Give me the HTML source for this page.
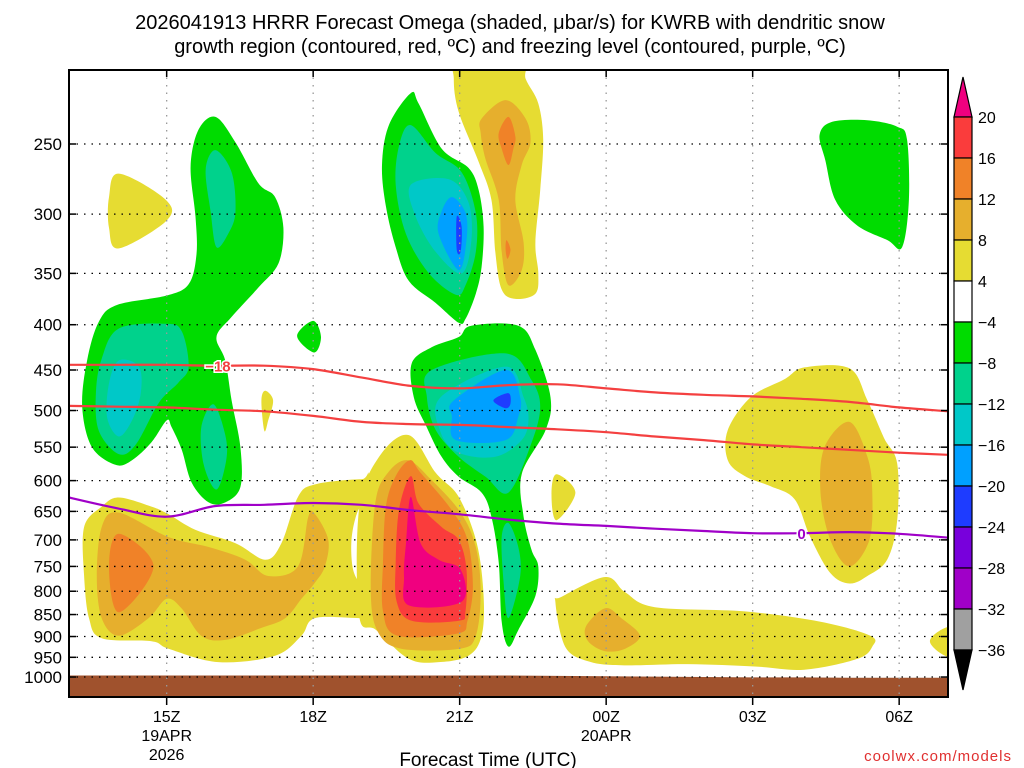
<!DOCTYPE html>
<html><head><meta charset="utf-8"><title>HRRR Omega KWRB</title>
<style>
body{margin:0;background:#fff;}
svg{display:block;font-family:"Liberation Sans",sans-serif;}
</style></head>
<body>
<svg id="chart" width="1024" height="768" viewBox="0 0 1024 768" xmlns="http://www.w3.org/2000/svg">
<text x="510" y="29" font-size="20" text-anchor="middle" fill="#000">2026041913 HRRR Forecast Omega (shaded, μbar/s) for KWRB with dendritic snow</text>
<text x="510" y="53" font-size="20" text-anchor="middle" fill="#000">growth region (contoured, red, ºC) and freezing level (contoured, purple, ºC)</text>
<defs><clipPath id="plotclip"><rect x="69" y="70" width="879" height="627"/></clipPath></defs>
<g id="plot" clip-path="url(#plotclip)"></g>
<g id="grid"></g>
<g id="lines" clip-path="url(#plotclip)"></g>
<rect x="69" y="70" width="879" height="627" fill="none" stroke="#000" stroke-width="2"/>
<g id="axes"></g>
<g id="cbar"></g>
<text x="488" y="766" font-size="19" text-anchor="middle">Forecast Time (UTC)</text>
<text x="1012" y="761" font-size="15" text-anchor="end" fill="#e03030" letter-spacing="1">coolwx.com/models</text>
</svg>
<script>
// time in hours since 13Z 19APR, pressure in hPa
const xTickHours=[2,5,8,11,14,17];
const xTickLabels=["15Z","18Z","21Z","00Z","03Z","06Z"];
const pTicks=[250,300,350,400,450,500,550,600,650,700,750,800,850,900,950,1000];
const lineHours=[0,1,2,3,4,5,6,7,8,9,10,11,12,13,14,15,16,17,18];
const dgzTop=[444,444,444,445,445,449,459,469,472,468,467,472,477,480,482,485,489,496,501];
const dgzBottom=[494,495,496,499,501,507,515,518,519,522,525,529,535,540,546,550,554,558,561];
const freezing=[627,645,659,641,639,636,639,648,655,664,671,675,680,684,688,688,686,689,696];
const surfaceP=[996,996,996,996,996,996,996,996,996,996,997,998,999,1000,1001,1001,1002,1002,1002];
const cbarLevels=["20","16","12","8","4","−4","−8","−12","−16","−20","−24","−28","−32","−36"];
const cbarColors=["#fa3c3c","#f08228","#e6af2d","#e6dc32","#ffffff","#00dc00","#00d28c","#00c8c8","#00a0ff","#1e3cff","#7800dc","#a000c8","#a0a0a0"];
const fill={W:"#ffffff",y:"#e6dc32",g:"#e6af2d",o:"#f08228",r:"#fa3c3c",m:"#f0007f",G:"#00dc00",T:"#00d28c",C:"#00c8c8",L:"#00a0ff",B:"#1e3cff"};
const shapes=[
["y",[[1.02,270],[1.98,289],[2.0,305],[1.02,328],[0.82,311],[0.82,287]]],
["y",[[0.31,677],[0.67,642],[1.02,627],[1.69,642],[2.04,655],[2.59,682],[3.41,706],[4.02,737],[4.35,706],[4.69,626],[5.04,606],[5.98,598],[6.15,605],[6.15,850],[6.0,858],[5.04,858],[4.76,898],[4.22,946],[3.06,962],[2.04,929],[1.69,911],[0.67,904],[0.41,858],[0.31,769]]],
["W",[[5.98,644],[6.08,677],[6.08,757],[5.98,783],[5.82,757],[5.78,706],[5.86,663]]],
["g",[[0.67,677],[1.02,652],[2.04,695],[2.86,713],[3.61,737],[4.08,769],[4.69,750],[4.9,659],[5.04,655],[5.31,700],[5.24,750],[5.04,782],[4.76,816],[4.43,858],[3.94,880],[3.2,908],[2.71,898],[2.31,837],[2.0,816],[1.63,858],[1.02,898],[0.67,858],[0.57,769]]],
["o",[[1.02,689],[1.73,750],[1.02,845],[0.82,750]]],
["y",[[6.96,533],[7.51,588],[7.98,626],[8.35,706],[8.49,810],[8.45,898],[8.18,946],[7.57,962],[6.96,954],[6.29,885],[5.94,852],[5.94,646],[6.35,564]]],
["g",[[6.94,569],[7.41,598],[8.02,652],[8.33,713],[8.43,802],[8.33,898],[8.0,929],[6.8,929],[6.33,890],[6.18,802],[6.27,637],[6.53,588]]],
["o",[[6.98,569],[7.2,588],[7.82,646],[8.16,700],[8.27,790],[8.16,864],[7.96,893],[6.73,898],[6.43,843],[6.43,743],[6.49,642],[6.69,593]]],
["r",[[7.0,593],[7.16,637],[7.63,677],[7.98,700],[8.14,756],[8.12,843],[7.98,864],[7.02,864],[6.71,822],[6.69,743],[6.76,646]]],
["m",[[7.0,626],[7.2,706],[7.57,737],[8.02,756],[8.04,822],[6.96,830],[6.86,771],[6.9,706]]],
["G",[[8.24,401],[9.2,401],[9.55,427],[9.86,483],[9.76,526],[9.27,590],[9.31,659],[9.47,718],[9.61,750],[9.55,810],[9.2,885],[9.0,924],[8.86,866],[8.8,742],[8.65,659],[8.45,619],[7.98,594],[7.63,564],[7.31,520],[7.06,483],[7.02,442],[7.43,424],[7.98,413]]],
["T",[[7.43,450],[8.94,431],[9.47,462],[9.65,495],[9.47,544],[9.0,619],[8.53,594],[7.98,564],[7.51,526],[7.33,483]]],
["T",[[9.0,670],[9.2,713],[9.24,769],[9.0,858],[8.9,782],[8.86,695]]],
["C",[[7.61,483],[8.94,446],[9.31,483],[9.41,512],[9.27,540],[8.73,564],[7.98,558],[7.61,529]]],
["L",[[7.88,487],[8.94,450],[9.24,483],[9.2,508],[8.94,540],[7.92,540],[7.84,508]]],
["B",[[8.69,487],[9.0,478],[9.04,491],[8.94,497]]],
["G",[[7.0,219],[7.16,225],[7.63,253],[8.18,266],[8.39,282],[8.49,310],[8.45,344],[8.33,369],[8.12,394],[7.98,398],[7.51,378],[6.96,357],[6.69,327],[6.49,294],[6.41,264],[6.55,238]]],
["T",[[7.0,238],[7.51,256],[8.04,269],[8.33,299],[8.33,331],[8.12,361],[7.92,370],[7.37,350],[6.9,316],[6.69,278],[6.76,251]]],
["C",[[7.0,278],[7.78,274],[8.18,291],[8.24,321],[8.04,350],[7.51,331],[7.1,302]]],
["L",[[7.84,287],[8.12,299],[8.14,321],[7.98,347],[7.57,316],[7.63,298]]],
["B",[[7.94,302],[8.04,310],[8.02,331],[7.94,329]]],
["y",[[7.98,200],[9.27,200],[9.35,211],[9.61,225],[9.71,247],[9.65,282],[9.55,323],[9.61,350],[9.55,369],[9.14,374],[8.86,365],[8.73,331],[8.65,289],[8.39,262],[7.98,230],[7.88,211]]],
["g",[[8.45,234],[8.94,223],[9.35,234],[9.45,249],[9.27,264],[9.14,289],[9.31,323],[9.27,347],[9.0,361],[8.86,331],[8.8,289],[8.53,260],[8.43,243]]],
["o",[[9.0,233],[9.14,245],[9.1,253],[9.0,264],[8.86,253],[8.8,243]]],
["o",[[8.96,321],[9.04,329],[8.98,337],[8.94,329]]],
["G",[[3.0,233],[3.41,249],[3.88,277],[4.22,287],[4.39,311],[4.29,341],[3.88,363],[3.33,392],[3.02,413],[3.2,439],[3.33,487],[3.51,550],[3.51,610],[3.2,635],[2.86,635],[2.51,603],[2.31,554],[2.1,522],[2.0,513],[1.69,543],[1.29,569],[0.96,576],[0.47,550],[0.27,495],[0.37,439],[0.61,397],[0.98,380],[1.98,371],[2.45,360],[2.61,333],[2.59,302],[2.49,265],[2.65,241]]],
["T",[[3.0,254],[3.33,269],[3.41,298],[3.27,315],[3.02,327],[2.9,298],[2.8,267]]],
["T",[[1.02,404],[1.98,399],[2.31,407],[2.45,446],[2.24,465],[1.84,490],[1.37,546],[1.02,560],[0.61,527],[0.55,478],[0.67,437]]],
["C",[[1.02,439],[1.43,446],[1.47,478],[1.29,513],[1.02,535],[0.78,509],[0.82,466]]],
["T",[[2.96,492],[3.2,533],[3.22,569],[3.02,614],[2.76,576],[2.71,522]]],
["G",[[5.0,396],[5.16,413],[5.02,430],[4.67,412]]],
["y",[[4.02,475],[4.18,487],[4.08,513],[4.0,527],[3.94,487]]],
["G",[[15.63,236],[16.35,235],[16.96,239],[17.16,247],[17.2,289],[17.06,327],[16.76,321],[16.14,309],[15.69,289],[15.49,261],[15.37,244]]],
["y",[[15.06,447],[15.98,448],[16.35,487],[16.69,537],[16.96,574],[16.96,665],[16.76,736],[16.35,769],[15.98,784],[15.59,763],[15.18,695],[14.86,630],[14.37,609],[13.84,593],[13.49,569],[13.49,526],[13.96,483],[14.65,461]]],
["g",[[15.98,515],[16.35,564],[16.45,619],[16.39,700],[15.98,750],[15.59,700],[15.39,619],[15.47,550]]],
["y",[[9.98,590],[10.37,619],[9.98,665],[9.88,622]]],
["y",[[10.98,771],[11.39,802],[12.0,834],[13.84,843],[15.39,866],[16.41,898],[16.45,924],[16.14,954],[15.06,981],[14.04,973],[12.67,967],[11.31,970],[10.63,960],[10.16,924],[9.96,823],[10.08,812]]],
["g",[[10.98,836],[11.31,858],[11.69,898],[11.39,929],[10.98,935],[10.63,911],[10.59,876]]],
["y",[[17.63,911],[17.94,880],[18.3,880],[18.3,946],[17.94,946]]]
];
const shapeNames={W:"calm-hole",y:"omega-4-8",g:"omega-8-12",o:"omega-12-16",r:"omega-16-20",m:"omega-above-20",G:"omega-minus-4-8",T:"omega-minus-8-12",C:"omega-minus-12-16",L:"omega-minus-16-20",B:"omega-minus-20-24"};

const NS="http://www.w3.org/2000/svg";
function xs(t){return 69+t*(879/18);}
function ys(p){return 144+384.5*Math.log(p/250);}
function mk(tag,attrs,parent){const e=document.createElementNS(NS,tag);for(const k in attrs)e.setAttribute(k,attrs[k]);parent.appendChild(e);return e;}
function smoothClosed(pts){
  const n=pts.length;let d="M"+pts[0][0].toFixed(1)+","+pts[0][1].toFixed(1);
  for(let i=0;i<n;i++){
    const p0=pts[(i-1+n)%n],p1=pts[i],p2=pts[(i+1)%n],p3=pts[(i+2)%n];
    const c1=[p1[0]+(p2[0]-p0[0])/6,p1[1]+(p2[1]-p0[1])/6];
    const c2=[p2[0]-(p3[0]-p1[0])/6,p2[1]-(p3[1]-p1[1])/6];
    d+="C"+c1[0].toFixed(1)+","+c1[1].toFixed(1)+" "+c2[0].toFixed(1)+","+c2[1].toFixed(1)+" "+p2[0].toFixed(1)+","+p2[1].toFixed(1);
  }
  return d+"Z";
}
function smoothOpen(pts){
  let d="M"+pts[0][0].toFixed(1)+","+pts[0][1].toFixed(1);
  for(let i=0;i<pts.length-1;i++){
    const p0=pts[Math.max(i-1,0)],p1=pts[i],p2=pts[i+1],p3=pts[Math.min(i+2,pts.length-1)];
    const c1=[p1[0]+(p2[0]-p0[0])/6,p1[1]+(p2[1]-p0[1])/6];
    const c2=[p2[0]-(p3[0]-p1[0])/6,p2[1]-(p3[1]-p1[1])/6];
    d+="C"+c1[0].toFixed(1)+","+c1[1].toFixed(1)+" "+c2[0].toFixed(1)+","+c2[1].toFixed(1)+" "+p2[0].toFixed(1)+","+p2[1].toFixed(1);
  }
  return d;
}
const plot=document.getElementById("plot");
shapes.forEach(s=>{
  const pts=s[1].map(q=>[xs(q[0]),ys(q[1])]);
  const el=mk("path",{d:smoothClosed(pts),fill:fill[s[0]]},plot);
  
  
});
// ground
const gpts=lineHours.map((h,i)=>[xs(h),ys(surfaceP[i])]);
let gd="M"+gpts.map(p=>p[0].toFixed(1)+","+p[1].toFixed(1)).join("L")+"L948,700L69,700Z";
const ground=mk("path",{d:gd,fill:"#a0522d"},plot);



// grid
const grid=document.getElementById("grid");
pTicks.forEach(p=>{
  const y=ys(p);
  const l=mk("line",{x1:69,x2:948,y1:y,y2:y,stroke:"#000","stroke-width":1.3,"stroke-dasharray":"1.5,6"},grid);
  
  
});
xTickHours.forEach(h=>{
  const x=xs(h);
  const l=mk("line",{x1:x,x2:x,y1:70,y2:697,stroke:"#999","stroke-width":1.3,"stroke-dasharray":"1.5,6"},grid);
  
  
});
// contour lines
const lines=document.getElementById("lines");
function drawLine(arr,color,name){
  const pts=lineHours.map((h,i)=>[xs(h),ys(arr[i])]);
  const l=mk("path",{d:smoothOpen(pts),fill:"none",stroke:color,"stroke-width":2.2},lines);
  
  
}
drawLine(dgzTop,"#f44040","dgz-top-line");
drawLine(dgzBottom,"#f44040","dgz-bottom-line");
drawLine(freezing,"#a000c8","freezing-level-line");
const lb1=mk("text",{x:xs(3.05),y:ys(dgzTop[3])+6,"font-size":15,"font-weight":"bold",fill:"#f44040","text-anchor":"middle",stroke:"#fff","stroke-width":3,"paint-order":"stroke"},lines);
lb1.textContent="−18";


const lb2=mk("text",{x:xs(15),y:ys(freezing[15])+6,"font-size":15,"font-weight":"bold",fill:"#a000c8","text-anchor":"middle",stroke:"#fff","stroke-width":3,"paint-order":"stroke"},lines);
lb2.textContent="0";



// axes
const axes=document.getElementById("axes");
pTicks.forEach(p=>{
  const y=ys(p);
  mk("line",{x1:69,x2:76,y1:y,y2:y,stroke:"#000","stroke-width":1.5},axes);
  mk("line",{x1:941,x2:948,y1:y,y2:y,stroke:"#000","stroke-width":1.5},axes);
  const t=mk("text",{x:62,y:y+6,"font-size":17,"text-anchor":"end"},axes);
  t.textContent=String(p);
  
  
});
xTickHours.forEach((h,i)=>{
  const x=xs(h);
  mk("line",{x1:x,x2:x,y1:697,y2:705,stroke:"#000","stroke-width":1.5},axes);
  mk("line",{x1:x,x2:x,y1:70,y2:77,stroke:"#000","stroke-width":1.5},axes);
  const t=mk("text",{x:x,y:722,"font-size":16,"text-anchor":"middle"},axes);
  t.textContent=xTickLabels[i];
  
  
});
[[2,"19APR",741],[2,"2026",760],[11,"20APR",741]].forEach(d=>{
  const t=mk("text",{x:xs(d[0]),y:d[2],"font-size":16,"text-anchor":"middle"},axes);
  t.textContent=d[1];
  
  
});

// colorbar
const cb=document.getElementById("cbar");
const cbY0=117,cbStep=(650-117)/13,cbX=954,cbW=18;
const up=mk("path",{d:`M${cbX},${cbY0}L${cbX+cbW/2},77L${cbX+cbW},${cbY0}Z`,fill:"#f0007f",stroke:"#000","stroke-width":1.2},cb);


cbarColors.forEach((c,i)=>{
  const r=mk("rect",{x:cbX,y:cbY0+i*cbStep,width:cbW,height:cbStep,fill:c,stroke:"#000","stroke-width":1.2},cb);
  
  
});
const dn=mk("path",{d:`M${cbX},650L${cbX+cbW/2},690L${cbX+cbW},650Z`,fill:"#000",stroke:"#000","stroke-width":1.2},cb);


cbarLevels.forEach((s,i)=>{
  const t=mk("text",{x:978,y:cbY0+i*cbStep+6,"font-size":16},cb);
  t.textContent=s;
  
  
});
</script>
</body></html>
